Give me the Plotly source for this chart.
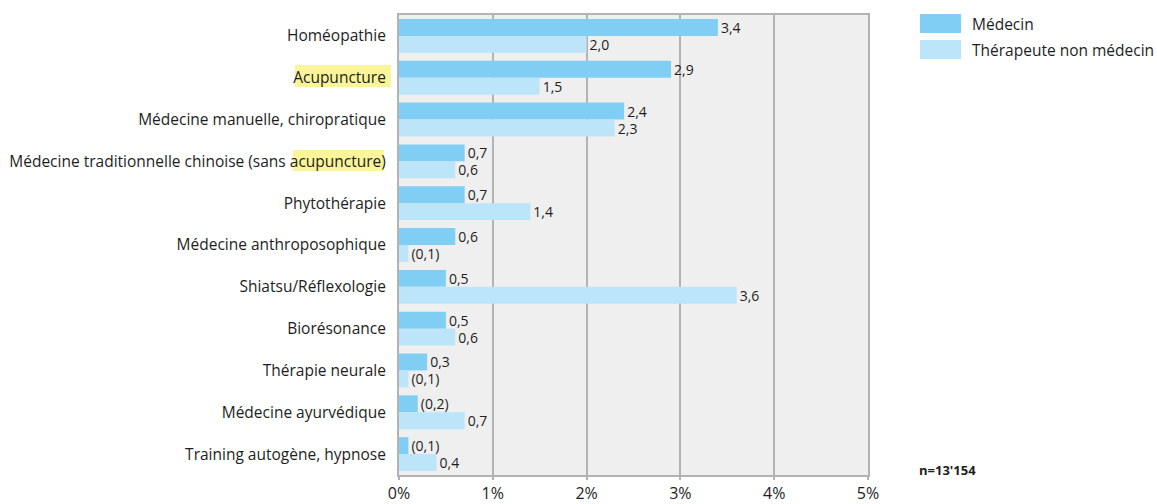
import plotly.graph_objects as go

# Survey data: share of respondents (%) by therapy and type of practitioner
categories = [
    "Homéopathie",
    "Acupuncture",
    "Médecine manuelle, chiropratique",
    "Médecine traditionnelle chinoise (sans acupuncture)",
    "Phytothérapie",
    "Médecine anthroposophique",
    "Shiatsu/Réflexologie",
    "Biorésonance",
    "Thérapie neurale",
    "Médecine ayurvédique",
    "Training autogène, hypnose",
]
medecin = [3.4, 2.9, 2.4, 0.7, 0.7, 0.6, 0.5, 0.5, 0.3, 0.2, 0.1]
therapeute = [2.0, 1.5, 2.3, 0.6, 1.4, 0.1, 3.6, 0.6, 0.1, 0.7, 0.4]
# values in parentheses are statistically uncertain
medecin_uncertain = [False] * 9 + [True, True]
therapeute_uncertain = [False, False, False, False, False, True, False, False, True, False, False]

x_ticks = [0, 1, 2, 3, 4, 5]
x_ticklabels = ["0%", "1%", "2%", "3%", "4%", "5%"]
sample_note = "n=13'154"

C_MED = "#80cef3"
C_THE = "#bde5f9"
FONT = "Open Sans"
TXT = "#1e1e1e"


def fmt(v, uncertain):
    s = f"{v:.1f}".replace(".", ",")
    return f"({s})" if uncertain else s


fig = go.Figure()
fig.add_trace(go.Bar(
    y=categories, x=medecin, orientation="h", name="Médecin",
    marker=dict(color=C_MED, line=dict(width=0)),
    text=[fmt(v, u) for v, u in zip(medecin, medecin_uncertain)],
    textposition="outside", constraintext="none", cliponaxis=False,
    textfont=dict(family=FONT, size=14, color=TXT),
    showlegend=False,
))
fig.add_trace(go.Bar(
    y=categories, x=therapeute, orientation="h", name="Thérapeute non médecin",
    marker=dict(color=C_THE, line=dict(width=0)),
    text=[fmt(v, u) for v, u in zip(therapeute, therapeute_uncertain)],
    textposition="outside", constraintext="none", cliponaxis=False,
    textfont=dict(family=FONT, size=14, color=TXT),
    showlegend=False,
))

W, H = 1157, 504
ML, MR, MT, MB = 399, 289, 15, 29
PW = W - ML - MR
PH = H - MT - MB


def px(xp):
    return (xp - ML) / PW


def py(yp):
    return 1 - (yp - MT) / PH


shapes = []
# yellow highlight behind the word "acupuncture" in two category labels
for x0, x1, y0, y1 in [(295, 391, 65, 87), (293, 384, 150, 171)]:
    shapes.append(dict(type="rect", xref="paper", yref="paper", layer="below",
                       x0=px(x0), x1=px(x1), y0=py(y1), y1=py(y0),
                       fillcolor="#fbf59a", line=dict(width=0)))

# legend swatches
annotations = []
for i, (name, col) in enumerate([("Médecin", C_MED), ("Thérapeute non médecin", C_THE)]):
    y0 = 14 + i * 26
    shapes.append(dict(type="rect", xref="paper", yref="paper",
                       x0=px(920), x1=px(961), y0=py(y0 + 19), y1=py(y0),
                       fillcolor=col, line=dict(width=0)))
    annotations.append(dict(xref="paper", yref="paper", x=px(970), y=py(y0 + 10),
                            text=name, showarrow=False, xanchor="left", yanchor="middle",
                            font=dict(family=FONT, size=15.5, color=TXT)))

annotations.append(dict(xref="paper", yref="paper", x=px(917), y=py(470),
                        text=f"<b>{sample_note}</b>", showarrow=False,
                        xanchor="left", yanchor="middle",
                        font=dict(family=FONT, size=13, color=TXT)))

fig.update_layout(
    width=W, height=H,
    margin=dict(l=ML, r=MR, t=MT, b=MB, pad=0, autoexpand=False),
    paper_bgcolor="white", plot_bgcolor="#efefef",
    barmode="group", bargap=0.19, bargroupgap=0,
    font=dict(family=FONT, size=15.5, color=TXT),
    shapes=shapes, annotations=annotations,
    xaxis=dict(range=[0, 5], tickvals=x_ticks, ticktext=x_ticklabels,
               showgrid=True, gridcolor="#b3b3b3", gridwidth=2,
               showline=True, linecolor="#b3b3b3", linewidth=2, mirror=True,
               ticks="outside", ticklen=3, tickcolor="#b3b3b3", tickwidth=2,
               tickfont=dict(family=FONT, size=16, color=TXT),
               zeroline=False, fixedrange=True, automargin=False),
    yaxis=dict(categoryorder="array", categoryarray=categories, autorange="reversed",
               showline=True, linecolor="#b3b3b3", linewidth=2, mirror=True,
               ticks="", ticklabelstandoff=8,
               tickfont=dict(family=FONT, size=15.5, color=TXT),
               showgrid=False, fixedrange=True, automargin=False),
)

fig.write_html("out.html")
